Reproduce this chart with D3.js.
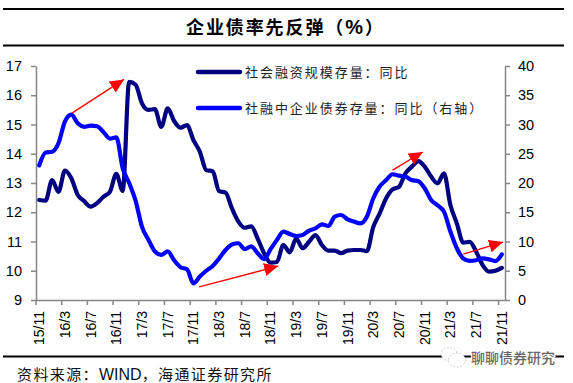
<!DOCTYPE html>
<html>
<head>
<meta charset="utf-8">
<script src="https://cdn.jsdelivr.net/npm/d3@7"></script>
<style>
	html, body { margin: 0; padding: 0; background: #fff; }
	svg { display: block; }
	text { font-family: "Noto Sans CJK SC", sans-serif; }
	.axis text { font-family: "Liberation Sans", Arial, sans-serif; font-size: 14.5px; fill: #000; }
	.axis.x-axis text { font-size: 14px; }
	.axis path, .axis line { stroke: #868686; stroke-width: 1.5px; }
</style>
</head>
<body>
<div id="chart"></div>
<script>
const months = [
	"15/11", "15/12",
	"16/1", "16/2", "16/3", "16/4", "16/5", "16/6", "16/7", "16/8", "16/9", "16/10", "16/11", "16/12",
	"17/1", "17/2", "17/3", "17/4", "17/5", "17/6", "17/7", "17/8", "17/9", "17/10", "17/11", "17/12",
	"18/1", "18/2", "18/3", "18/4", "18/5", "18/6", "18/7", "18/8", "18/9", "18/10", "18/11", "18/12",
	"19/1", "19/2", "19/3", "19/4", "19/5", "19/6", "19/7", "19/8", "19/9", "19/10", "19/11", "19/12",
	"20/1", "20/2", "20/3", "20/4", "20/5", "20/6", "20/7", "20/8", "20/9", "20/10", "20/11", "20/12",
	"21/1", "21/2", "21/3", "21/4", "21/5", "21/6", "21/7", "21/8", "21/9", "21/10", "21/11",
]

const tickLabels = [
	"15/11", "16/3", "16/7", "16/11", "17/3", "17/7", "17/11", "18/3", "18/7", "18/11",
	"19/3", "19/7", "19/11", "20/3", "20/7", "20/11", "21/3", "21/7", "21/11",
]

// 社会融资规模存量：同比 (left axis)
const tsfGrowth = [
	12.42, 12.40, 13.10, 12.70, 13.42, 13.16, 12.59, 12.38, 12.19, 12.31, 12.53, 12.70, 13.31, 12.73,
	16.46, 16.36, 15.72, 15.50, 15.53, 14.92, 15.55, 15.12, 14.89, 14.98, 14.47, 14.07, 13.44, 13.40,
	12.72, 12.67, 12.13, 11.68, 11.47, 11.52, 11.10, 10.60, 10.28, 10.30, 10.88, 10.63, 11.10, 10.77,
	10.99, 11.22, 10.88, 10.69, 10.69, 10.60, 10.69, 10.71, 10.71, 10.67, 11.50, 11.96, 12.48, 12.78,
	12.87, 13.33, 13.56, 13.75, 13.56, 13.22, 12.99, 13.33, 12.25, 11.62, 10.96, 10.99, 10.66, 10.20,
	9.97, 10.00, 10.10,
]

// 社融中企业债券存量：同比 (right axis)
const bondGrowth = [
	23.0, 25.2, 25.35, 26.8, 30.5, 31.7, 30.2, 29.6, 29.8, 29.7, 28.7, 27.6, 27.8, 22.5,
	20.0, 17.0, 12.5, 10.3, 8.3, 7.7, 8.3, 6.8, 5.6, 5.25, 2.85, 4.0, 5.0, 5.8,
	7.1, 8.55, 9.5, 9.7, 8.7, 9.15, 8.0, 7.0, 8.67, 10.26, 11.68, 11.28, 10.94, 11.1,
	11.85, 12.25, 12.94, 12.65, 14.24, 14.53, 13.8, 13.4, 13.1, 14.24, 17.4, 19.4, 20.5, 21.5,
	21.25, 21.1, 20.5, 20.3, 19.1, 17.1, 16.2, 15.1, 11.7, 8.85, 7.1, 6.7, 6.8, 7.1,
	6.95, 6.65, 7.8,
]

// red arrows: month offset along the axis, value on the left axis
const arrowStart = [[5.6, 15.39], [25.4, 9.45], [55.5, 13.44], [66.5, 10.57]]
const arrowEnd = [[13.7, 16.54], [37.7, 10.16], [60.2, 14.06], [72.7, 10.98]]

const legendLabels = ["社会融资规模存量：同比", "社融中企业债券存量：同比（右轴）"]
const lineColors = ["#000080", "#0000ff"]

const W = 573
const H = 383
const margin = { top: 66, right: 68, bottom: 83, left: 36 }

const svg = d3.select("#chart").append("svg").attr("width", W).attr("height", H)

const x = d3.scaleBand().domain(months).range([margin.left, W - margin.right])
const xPos = d3.scaleLinear().domain([0, months.length]).range([margin.left, W - margin.right])
const yLeft = d3.scaleLinear().domain([9, 17]).range([H - margin.bottom, margin.top])
const yRight = d3.scaleLinear().domain([0, 40]).range([H - margin.bottom, margin.top])
const bw = x.bandwidth()

// Rules
;[9, 45.5, 356.5].forEach((y) => {
	svg.append("line")
		.attr("x1", 3)
		.attr("x2", 564)
		.attr("y1", y)
		.attr("y2", y)
		.attr("stroke", "#000")
		.attr("stroke-width", 2)
})

// Title
const title = svg
	.append("text")
	.attr("x", 186)
	.attr("y", 34)
	.style("font-size", "18px")
	.style("font-weight", 700)
	.style("letter-spacing", "1.9px")
title.append("tspan").text("企业债率先反弹（")
title.append("tspan").style("font-family", "Liberation Sans").style("font-size", "20px").text("%")
title.append("tspan").text("）")

// Axes
svg.append("g")
	.attr("class", "axis")
	.attr("transform", `translate(${margin.left},0)`)
	.call(d3.axisLeft(yLeft).ticks(8).tickSize(5).tickSizeOuter(0).tickPadding(9))

svg.append("g")
	.attr("class", "axis")
	.attr("transform", `translate(${W - margin.right},0)`)
	.call(d3.axisRight(yRight).ticks(8).tickSize(5).tickSizeOuter(0).tickPadding(8))

const xAxis = svg
	.append("g")
	.attr("class", "axis x-axis")
	.attr("transform", `translate(0,${H - margin.bottom})`)
	.call(d3.axisBottom(x).tickValues(tickLabels).tickSize(5).tickSizeOuter(0))

// ticks sit on the band edge, labels stay on the band centre
xAxis.selectAll(".tick line").attr("transform", `translate(${-bw / 2},0)`)
xAxis.selectAll(".tick text")
	.attr("transform", "rotate(-90)")
	.attr("text-anchor", "end")
	.attr("x", -11)
	.attr("y", 0)
	.attr("dy", "0.35em")

// Lines
const lineFor = (y) =>
	d3
		.line()
		.x((d, i) => x(months[i]) + bw / 2)
		.y((d) => y(d))
		.curve(d3.curveMonotoneX)

svg.append("path")
	.datum(tsfGrowth)
	.attr("fill", "none")
	.attr("stroke", lineColors[0])
	.attr("stroke-width", 4.2)
	.attr("stroke-linecap", "round")
	.attr("stroke-linejoin", "round")
	.attr("d", lineFor(yLeft))

svg.append("path")
	.datum(bondGrowth)
	.attr("fill", "none")
	.attr("stroke", lineColors[1])
	.attr("stroke-width", 4.2)
	.attr("stroke-linecap", "round")
	.attr("stroke-linejoin", "round")
	.attr("d", lineFor(yRight))

// Legend
legendLabels.forEach((label, i) => {
	const y = 72 + i * 36
	svg.append("line")
		.attr("x1", 198)
		.attr("x2", 240)
		.attr("y1", y)
		.attr("y2", y)
		.attr("stroke", lineColors[i])
		.attr("stroke-width", 4.5)
		.attr("stroke-linecap", "round")
	svg.append("text")
		.attr("x", 245)
		.attr("y", y + 4.5)
		.style("font-size", "13px")
		.style("letter-spacing", "1.95px")
		.style("fill", "#222")
		.text(label)
})

// Red arrows
svg.append("defs")
	.append("marker")
	.attr("id", "arrow-head")
	.attr("markerUnits", "userSpaceOnUse")
	.attr("markerWidth", 14)
	.attr("markerHeight", 13)
	.attr("refX", 14)
	.attr("refY", 6.5)
	.attr("orient", "auto")
	.append("path")
	.attr("d", "M0,0L14,6.5L0,13Z")
	.attr("fill", "#ff0000")

arrowStart.forEach((s, i) => {
	const e = arrowEnd[i]
	svg.append("line")
		.attr("x1", xPos(s[0]))
		.attr("y1", yLeft(s[1]))
		.attr("x2", xPos(e[0]))
		.attr("y2", yLeft(e[1]))
		.attr("stroke", "#ff0000")
		.attr("stroke-width", 1.4)
		.attr("marker-end", "url(#arrow-head)")
})

// Source
const source = svg
	.append("text")
	.attr("x", 17)
	.attr("y", 380)
	.style("font-size", "15px")
	.style("letter-spacing", "1.4px")
	.style("fill", "#111")
source.append("tspan").text("资料来源：")
source.append("tspan")
	.style("font-family", "Liberation Sans")
	.style("font-size", "16px")
	.style("letter-spacing", "0")
	.text("WIND")
source.append("tspan").text("，海通证券研究所")

// Watermark
const mark = svg
	.append("g")
	.attr("fill", "#fff")
	.attr("stroke", "#c4c4c4")
	.attr("stroke-width", 0.8)
mark.append("ellipse").attr("cx", 449).attr("cy", 354).attr("rx", 8).attr("ry", 6.5).attr("stroke-dasharray", "2,1.5")
mark.append("ellipse").attr("cx", 457).attr("cy", 360).attr("rx", 8.5).attr("ry", 7).attr("stroke-dasharray", "2,1.5")

svg.append("text")
	.attr("x", 471)
	.attr("y", 363)
	.style("font-size", "14px")
	.style("font-weight", 500)
	.style("fill", "#666")
	.style("stroke", "#fff")
	.style("stroke-width", 2.5)
	.style("paint-order", "stroke")
	.text("聊聊债券研究")
</script>
</body>
</html>
